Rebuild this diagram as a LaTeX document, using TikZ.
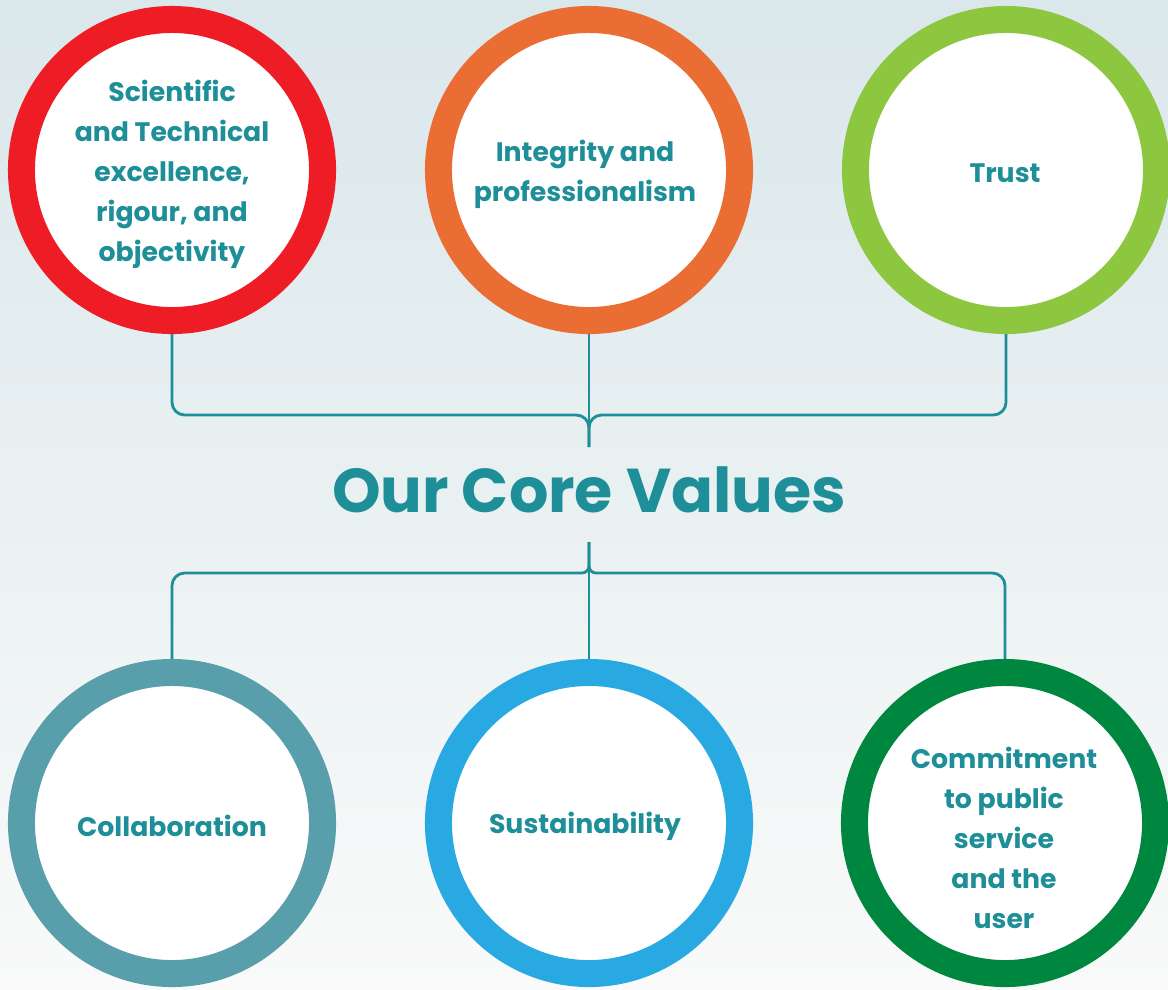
\documentclass[tikz,border=0pt]{standalone}
\usepackage{fontspec}
\setmainfont{Poppins}
\definecolor{tealtxt}{HTML}{1E8F98}
\definecolor{ringred}{HTML}{EE1D25}
\definecolor{ringorange}{HTML}{EA6E33}
\definecolor{ringlime}{HTML}{8DC63F}
\definecolor{ringgrey}{HTML}{589FAB}
\definecolor{ringblue}{HTML}{29A9E1}
\definecolor{ringgreen}{HTML}{00873F}
\definecolor{skytop}{HTML}{DAE7EB}
\definecolor{skybottom}{HTML}{F9FAF9}
\begin{document}
\begin{tikzpicture}[x=0.025cm, y=-0.025cm]
\tikzset{valring/.style={draw=#1, fill=white, circle, line width=0.675cm, minimum size=7.525cm, inner sep=0pt},
valtext/.style={text=tealtxt, align=center, inner sep=0pt, font=\bfseries\fontsize{19}{28.4}\selectfont},
link/.style={draw=tealtxt, line width=2pt}}
\useasboundingbox (0,0) rectangle (1168,989);
\clip (0,0) rectangle (1168,989);
\shade[top color=skytop, bottom color=skybottom] (0,0) rectangle (1168,989);
\node[valring=ringred] (sci) at (172,170) {};
\node[valring=ringorange] (integ) at (589,170) {};
\node[valring=ringlime] (trust) at (1006,170) {};
\node[valring=ringgrey] (collab) at (172,823) {};
\node[valring=ringblue] (sust) at (589,823) {};
\node[valring=ringgreen] (commit) at (1005,823) {};
\node[valtext] (scilbl) at (172,174) {Scientific\\and Technical\\excellence,\\rigour, and\\objectivity};
\node[valtext] (integlbl) at (585,174) {Integrity and\\professionalism};
\node[valtext] (trustlbl) at (1005,173) {Trust};
\node[valtext] (collablbl) at (172,826) {Collaboration};
\node[valtext] (sustlbl) at (585,826) {Sustainability};
\node[valtext] (commitlbl) at (1004,838) {Commitment\\to public\\service\\and the\\user};
\node[text=tealtxt, font=\bfseries\fontsize{44}{52}\selectfont] (title) at (589,490) {Our Core Values};
\coordinate (jtop) at (589,415);
\coordinate (stemtop) at (589,447);
\coordinate (jbot) at (589,573);
\coordinate (stembot) at (589,542);
\draw[link, rounded corners=9pt] (sci.south) |- (jtop) [rounded corners=5pt] -- (stemtop);
\draw[link, rounded corners=9pt] (trust.south) |- (jtop) [rounded corners=5pt] -- (stemtop);
\draw[link] (integ.south) -- (stemtop);
\draw[link, rounded corners=5pt] (stembot) -- (jbot) [rounded corners=9pt] -| (collab.north);
\draw[link, rounded corners=5pt] (stembot) -- (jbot) [rounded corners=9pt] -| (commit.north);
\draw[link] (stembot) -- (sust.north);
\end{tikzpicture}
\end{document}
